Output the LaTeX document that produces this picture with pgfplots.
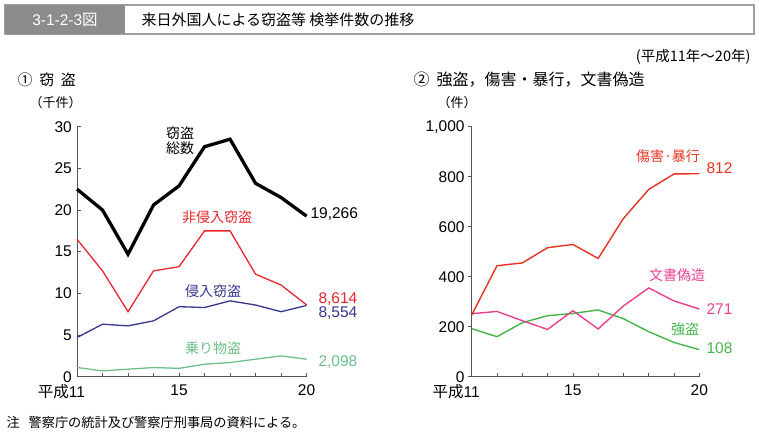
\documentclass[border=0pt]{standalone}
\usepackage{pgfplots}
\pgfplotsset{compat=1.18}
\usepackage{fontspec}
\setmainfont{Liberation Sans}
\newfontfamily\cjk{Noto Sans CJK JP}
\definecolor{tred}{HTML}{E8262B}
\definecolor{tblue}{HTML}{36368F}
\definecolor{tgreen}{HTML}{6DBE8A}
\definecolor{rred}{HTML}{E63323}
\definecolor{rpink}{HTML}{E8408F}
\definecolor{rgreen}{HTML}{45B54A}
\definecolor{axgray}{HTML}{555555}
\definecolor{boxgray}{HTML}{8C8C8C}
\definecolor{bordergray}{HTML}{A0A0A0}
\newcommand{\fs}[1]{\fontsize{#1}{#1}\selectfont}
\pgfplotsset{
  common/.style={
    scale only axis, height=250pt,
    ymin=0, xmin=11, xmax=20,
    axis x line*=bottom, axis y line*=left,
    axis line style={-, axgray, line width=0.7pt},
    tick style={axgray, line width=0.7pt},
    major tick length=4pt,
    tick align=inside,
    xtick={11,...,20},
    xticklabels={{\llap{\cjk 平成}11},,,,15,,,,,20},
    ticklabel style={font=\fs{15.5}},
    xticklabel style={yshift=-6.5pt, inner sep=1pt},
    /pgf/number format/assume math mode=true,
    /pgf/number format/1000 sep={,},
    clip=false,
  }
}
\begin{document}
\begin{tikzpicture}[x=1pt,y=1pt]
\path[use as bounding box] (0,0) rectangle (759,433);
% title bar
\draw[bordergray, line width=1.3pt] (5,399) rectangle (754,428);
\fill[boxgray] (5,399) rectangle (125,428);
\node[white, font=\fs{15.5}] at (65,413.5) {3-1-2-3{\cjk 図}};
\node[anchor=west, font=\cjk\fs{15}] at (138,413.5) {来日外国人による窃盗等 検挙件数の推移};
\node[anchor=east, font=\cjk\fs{14.5}] at (754,376) {(平成11年～20年)};
\node[anchor=west, font=\cjk\fs{15}] at (14,353) {①\ \ 窃\ \ 盗};
\node[anchor=west, font=\cjk\fs{13}] at (26,330) {（千件）};
\node[anchor=west, font=\cjk\fs{16}] at (410,353) {②\ \ 強盗，傷害・暴行，文書偽造};
\node[anchor=west, font=\cjk\fs{13}] at (434,330) {（件）};
\node[anchor=west, font=\cjk\fs{13.2}] at (3,11) {注\ \ \ 警察庁の統計及び警察庁刑事局の資料による。};

% left chart
\begin{axis}[common, at={(77pt,56.3pt)}, anchor=south west,
  width=229.6pt, ymax=30, ytick={0,5,...,30}, yticklabel style={xshift=-4pt, inner sep=1pt}]
\addplot[tgreen, line width=1.3pt] coordinates {(11,1.1)(12,0.7)(13,0.9)(14,1.1)(15,1.0)(16,1.5)(17,1.7)(18,2.1)(19,2.5)(20,2.098)};
\addplot[tblue, line width=1.3pt] coordinates {(11,4.7)(12,6.3)(13,6.1)(14,6.7)(15,8.4)(16,8.3)(17,9.1)(18,8.6)(19,7.8)(20,8.554)};
\addplot[tred, line width=1.3pt] coordinates {(11,16.5)(12,12.7)(13,7.8)(14,12.7)(15,13.2)(16,17.5)(17,17.5)(18,12.3)(19,11.0)(20,8.614)};
\addplot[black, line width=3.3pt] coordinates {(11,22.5)(12,20.0)(13,14.7)(14,20.6)(15,22.9)(16,27.6)(17,28.5)(18,23.2)(19,21.5)(20,19.266)};
\end{axis}

% right chart
\begin{axis}[common, at={(471.7pt,56.3pt)}, anchor=south west,
  width=227.6pt, ymax=1000, ytick={0,200,...,1000},
  y tick style={xshift=-4pt}, yticklabel style={xshift=-6pt, inner sep=1pt}]
\addplot[rgreen, line width=1.4pt] coordinates {(11,192)(12,160)(13,216)(14,244)(15,253)(16,267)(17,232)(18,180)(19,137)(20,108)};
\addplot[rpink, line width=1.4pt] coordinates {(11,252)(12,261)(13,224)(14,189)(15,264)(16,191)(17,283)(18,355)(19,303)(20,271)};
\addplot[rred, line width=1.4pt] coordinates {(11,247)(12,444)(13,455)(14,516)(15,529)(16,473)(17,633)(18,749)(19,811)(20,812)};
\end{axis}

% left labels
\node[align=center, font=\cjk\fs{14}, inner sep=0pt] at (180,292) {窃盗\\[1pt]総数};
\node[tred, font=\cjk\fs{14}] at (217,216) {非侵入窃盗};
\node[tblue, font=\cjk\fs{14}] at (213,142) {侵入窃盗};
\node[tgreen, font=\cjk\fs{14}] at (213,85) {乗り物盗};
\node[anchor=west, font=\fs{15.5}] at (307,219) {19,266};
\node[anchor=west, tred, font=\fs{15.5}] at (315,134) {8,614};
\node[anchor=west, tblue, font=\fs{15.5}] at (315,120) {8,554};
\node[anchor=west, tgreen, font=\fs{15.5}] at (315,71) {2,098};
% right labels
\node[rred, font=\cjk\fs{14}] at (668,277) {傷害·暴行};
\node[anchor=west, rred, font=\fs{15.5}] at (703,265) {812};
\node[rpink, font=\cjk\fs{14}] at (677,158) {文書偽造};
\node[anchor=west, rpink, font=\fs{15.5}] at (703,124) {271};
\node[rgreen, font=\cjk\fs{14}] at (685,104) {強盗};
\node[anchor=west, rgreen, font=\fs{15.5}] at (703,85) {108};
\end{tikzpicture}
\end{document}
